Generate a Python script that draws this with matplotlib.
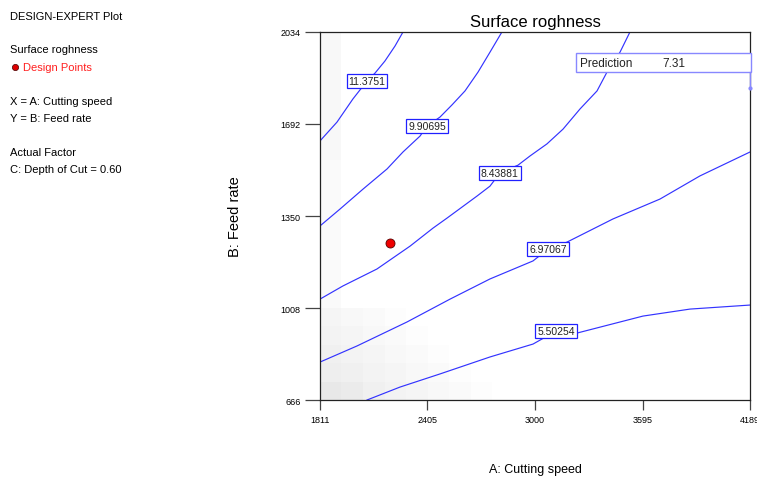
import matplotlib
matplotlib.use("Agg")
import matplotlib.pyplot as plt
from matplotlib.patches import Rectangle
import numpy as np

# axis ranges / ticks
x_ticks = [1811, 2405, 3000, 3595, 4189]
y_ticks = [666, 1008, 1350, 1692, 2034]

# contour lines (x = cutting speed, y = feed rate)
levels = ["11.3751", "9.90695", "8.43881", "6.97067", "5.50254"]
c1_x = [2270, 2226, 2170, 2115, 2071, 1993, 1905, 1811]
c1_y = [2034, 1982, 1926, 1881, 1852, 1785, 1699, 1629]
c2_x = [2817, 2751, 2685, 2613, 2541, 2475, 2403, 2364, 2270, 2182, 2049, 1922, 1811]
c2_y = [2034, 1959, 1885, 1815, 1763, 1718, 1684, 1647, 1588, 1525, 1450, 1376, 1313]
c3_x = [3525, 3470, 3398, 3343, 3249, 3155, 3066, 2972, 2906, 2806, 2751, 2679,
        2513, 2436, 2309, 2126, 1938, 1811]
c3_y = [2034, 1959, 1885, 1815, 1748, 1673, 1618, 1573, 1539, 1510, 1461, 1424,
        1342, 1305, 1238, 1153, 1090, 1041]
c4_x = [4189, 3912, 3691, 3431, 3177, 3072, 2989, 2751, 2530, 2292, 2016, 1811]
c4_y = [1588, 1499, 1413, 1339, 1253, 1227, 1183, 1116, 1041, 956, 867, 807]
c5_x = [4189, 3857, 3597, 3210, 3116, 2989, 2751, 2475, 2253, 2071]
c5_y = [1019, 1004, 978, 911, 922, 874, 826, 763, 714, 666]
contours = [(c1_x, c1_y), (c2_x, c2_y), (c3_x, c3_y), (c4_x, c4_y), (c5_x, c5_y)]
label_idx = [4, 6, 9, 5, 4]

# design point
design_x = [2198]
design_y = [1250]
prediction = 7.31

# faint background shading (bottom-left cells, row 0 = bottom)
shade_block = [
    [0.91, 0.92, 0.94, 0.95, 0.96, 0.97, 0.98, 0.99],
    [0.93, 0.94, 0.95, 0.96, 0.97, 0.98, 0.99, 1.00],
    [0.94, 0.95, 0.96, 0.97, 0.98, 0.99, 1.00, 1.00],
    [0.95, 0.96, 0.97, 0.98, 0.99, 1.00, 1.00, 1.00],
    [0.96, 0.97, 0.98, 0.99, 1.00, 1.00, 1.00, 1.00],
]
shade_left = [0.96, 0.97, 0.97, 0.97, 0.98, 0.98, 0.98, 0.98, 0.98, 0.98,
              0.98, 0.98, 0.98, 0.97, 0.97, 0.97, 0.97, 0.97, 0.97, 0.97]

plt.rcParams["font.family"] = ["Liberation Sans", "DejaVu Sans"]

fig = plt.figure(figsize=(7.57, 4.81), dpi=100)
ax = fig.add_axes([0.4227, 0.1663, 0.5681, 0.7651])

# background
grid = np.ones((20, 20))
for i, v in enumerate(shade_left):
    grid[i, 0] = v
blk = np.array(shade_block)
grid[:blk.shape[0], :blk.shape[1]] = blk
ax.imshow(grid, cmap="gray", vmin=0, vmax=1, origin="lower", aspect="auto",
          extent=[x_ticks[0], x_ticks[-1], y_ticks[0], y_ticks[-1]],
          interpolation="nearest", zorder=0)

for (cx, cy), lev, k in zip(contours, levels, label_idx):
    ax.plot(cx, cy, color="#3333ff", lw=0.85, zorder=2)
    ax.text(cx[k], cy[k], lev, fontsize=7.5, color="#222222", ha="center", va="center",
            zorder=4,
            bbox=dict(boxstyle="square,pad=0.18", fc="white", ec="#2020ff", lw=0.9))

ax.plot(design_x, design_y, "o", color="#ee0000", mec="#550000", mew=0.6, ms=6.5, zorder=5)

# prediction box
ax.add_patch(Rectangle((0.595, 0.891), 0.407, 0.052, transform=ax.transAxes,
                       fc="white", ec="#8888ff", lw=1.0, clip_on=False, zorder=6))
ax.text(0.605, 0.917, "Prediction", transform=ax.transAxes, fontsize=8.5,
        color="#222222", va="center", zorder=7)
ax.text(0.795, 0.917, "%.2f" % prediction, transform=ax.transAxes, fontsize=8.5,
        color="#222222", va="center", zorder=7)
ax.plot([1.0, 1.0], [0.891, 0.848], transform=ax.transAxes, color="#8888ff",
        lw=1.0, clip_on=False, zorder=6)
ax.plot([1.0], [0.848], "o", transform=ax.transAxes, color="#8888ff", ms=2,
        clip_on=False, zorder=6)

ax.set_xlim(x_ticks[0], x_ticks[-1])
ax.set_ylim(y_ticks[0], y_ticks[-1])
ax.set_xticks(x_ticks)
ax.set_yticks(y_ticks)
ax.set_xticklabels([str(t) for t in x_ticks], fontsize=6.5)
ax.set_yticklabels([str(t) for t in y_ticks], fontsize=6.5)
ax.tick_params(axis="x", length=7, width=0.9, color="#444444", pad=4)
ax.tick_params(axis="y", length=11, width=0.9, color="#444444", pad=3)
for s in ax.spines.values():
    s.set_linewidth(0.9)
    s.set_color("#222222")

ax.set_title("Surface roghness", fontsize=12, pad=4)
fig.text(0.3104, 0.549, "B: Feed rate", rotation=90, fontsize=10.5,
         ha="center", va="center")
fig.text(0.707, 0.023, "A: Cutting speed", fontsize=9, ha="center", va="center")

# left info block
lx = 0.0132
info = [(17, "DESIGN-EXPERT Plot"),
        (50, "Surface roghness"),
        (102, "X = A: Cutting speed"),
        (119, "Y = B: Feed rate"),
        (153, "Actual Factor"),
        (170, "C: Depth of Cut = 0.60")]
for py, s in info:
    fig.text(lx, 1 - py / 481, s, fontsize=8, color="black", va="center")
fig.text(0.0304, 1 - 68 / 481, "Design Points", fontsize=8, color="#ff2020", va="center")
fig.lines.append(plt.Line2D([0.0198], [1 - 68 / 481], marker="o", color="#dd0000",
                            mec="#440000", mew=0.5, ms=4.5, transform=fig.transFigure))

fig.savefig("out.png", dpi=100)
